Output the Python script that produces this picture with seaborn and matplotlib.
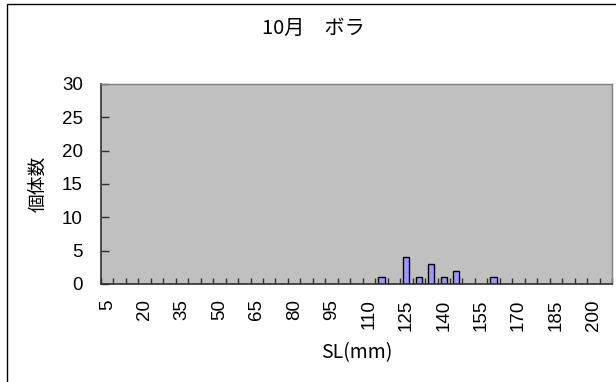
import matplotlib
matplotlib.use("Agg")
import matplotlib.pyplot as plt
import seaborn as sns
import pandas as pd
import numpy as np
from matplotlib.patches import Rectangle

sns.set_theme(style="white")
plt.rcParams['font.family'] = ['Noto Sans CJK JP', 'DejaVu Sans']

# Data
sl_bins = list(range(5, 210, 5))  # 5..205
counts_nonzero = {115: 1, 125: 4, 130: 1, 135: 3, 140: 1, 145: 2, 160: 1}
counts = [counts_nonzero.get(b, 0) for b in sl_bins]
title = "10月　ボラ"
xlabel = "SL(mm)"
ylabel = "個体数"
yticks = [0, 5, 10, 15, 20, 25, 30]

df = pd.DataFrame({"SL": [str(b) for b in sl_bins], "count": counts})

fig = plt.figure(figsize=(6.16, 3.82), dpi=100)
# outer chart border
fig.patches.append(Rectangle((7/616, -0.01), 1.0, 1 - 4/382 + 0.01, transform=fig.transFigure,
                             fill=False, edgecolor="black", linewidth=1.0))
ax = fig.add_axes([101/616, 1 - 284/382, (612 - 101)/616, 200/382])
ax.set_facecolor("#C0C0C0")

sns.barplot(data=df, x="SL", y="count", order=[str(b) for b in sl_bins],
            color="#9999FF", edgecolor="black", linewidth=1.0, width=0.5,
            saturation=1, ax=ax)

tick_font = ['Liberation Sans', 'DejaVu Sans']
n = len(sl_bins)
ax.set_xlim(-0.5, n - 0.5)
ax.set_ylim(0, 30)
ax.set_yticks(yticks)
ax.set_yticklabels([str(y) for y in yticks], fontsize=13.5, family=tick_font)

label_pos = list(range(0, n, 3))
ax.set_xticks(label_pos)
ax.set_xticklabels([str(sl_bins[i]) for i in label_pos], rotation=90, fontsize=13.5, family=tick_font)
ax.set_xticks(np.arange(-0.5, n, 1.0), minor=True)
ax.tick_params(axis="x", which="major", length=0, pad=11, colors="black")
ax.tick_params(axis="x", which="minor", direction="in", length=4, width=1, color="#303030", bottom=True)
ax.tick_params(axis="y", which="major", direction="in", length=6, width=1, color="#303030",
               left=True, pad=13, labelcolor="black")

for side in ["top", "right"]:
    ax.spines[side].set_color("#808080")
    ax.spines[side].set_linewidth(1.0)
for side in ["left", "bottom"]:
    ax.spines[side].set_color("#303030")
    ax.spines[side].set_linewidth(1.2)

ax.set_xlabel(xlabel, fontsize=14, labelpad=8, color="black")
ax.set_ylabel(ylabel, fontsize=13.5, labelpad=10, color="black")
fig.text(313/616, 1 - 28/382, title, ha="center", va="center", fontsize=14.5, color="black")

fig.savefig("out.png", dpi=100)
